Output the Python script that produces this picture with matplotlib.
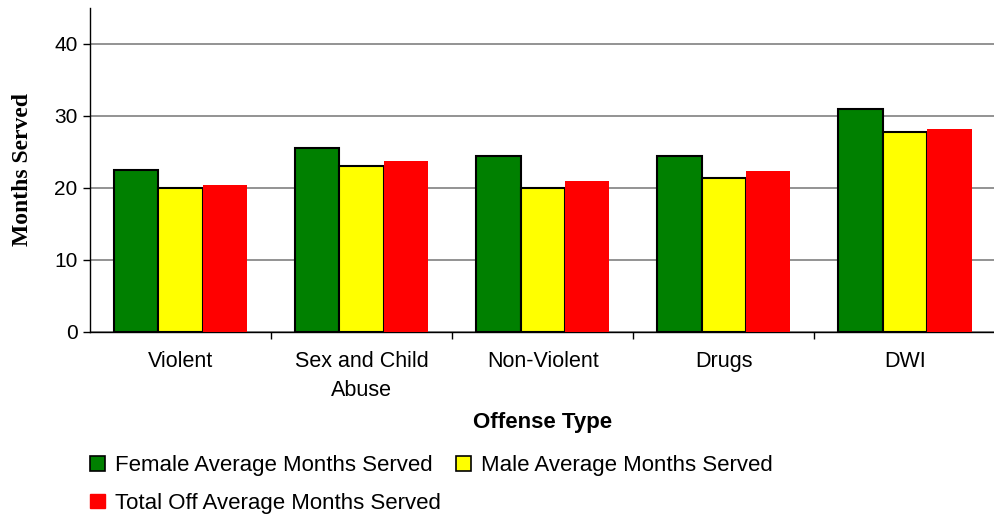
import numpy as np
import matplotlib.pyplot as plt
from matplotlib.patches import Patch

categories = ["Violent", "Sex and Child\nAbuse", "Non-Violent", "Drugs", "DWI"]
female = [22.5, 25.5, 24.4, 24.4, 31.0]
male = [20.0, 23.0, 20.0, 21.3, 27.7]
total = [20.4, 23.7, 21.0, 22.3, 28.2]

plt.rcParams["font.family"] = ["Liberation Sans", "DejaVu Sans"]

fig = plt.figure(figsize=(9.95, 5.17), dpi=100)
ax = fig.add_axes([0.0905, 0.358, 0.91, 0.627])

x = np.arange(len(categories))
w = 0.245
ax.bar(x - w, female, w, color="#008000", edgecolor="black", linewidth=1.5, zorder=3)
ax.bar(x, male, w, color="#ffff00", edgecolor="black", linewidth=1.5, zorder=3)
ax.bar(x + w, total, w, color="#ff0000", linewidth=0, zorder=3)

ax.set_xlim(-0.5, len(categories) - 0.5)
ax.set_ylim(0, 45)
ax.set_yticks([0, 10, 20, 30, 40])
ax.yaxis.grid(True, color="#808080", linewidth=1.2, zorder=0)

# category labels in the middle, tick marks on the group boundaries
ax.set_xticks(x)
ax.set_xticklabels(categories, fontsize=15.5, linespacing=1.45)
ax.tick_params(axis="x", which="major", length=0, pad=14)
ax.set_xticks(np.arange(len(categories)) + 0.5, minor=True)
ax.tick_params(axis="x", which="minor", length=5, width=1, color="black")
ax.tick_params(axis="y", length=5, width=1, labelsize=15, pad=4)

for side in ("top", "right"):
    ax.spines[side].set_visible(False)
ax.spines["left"].set_linewidth(1)
ax.spines["bottom"].set_linewidth(1)

ax.set_ylabel("Months Served", fontsize=17, fontweight="bold",
              family="Liberation Serif", labelpad=15)
ax.set_xlabel("Offense Type", fontsize=16, fontweight="bold", labelpad=8)

handles = [
    Patch(facecolor="#008000", edgecolor="black", linewidth=1.2,
          label="Female Average Months Served"),
    Patch(facecolor="#ff0000", edgecolor="#ff0000",
          label="Total Off Average Months Served"),
    Patch(facecolor="#ffff00", edgecolor="black", linewidth=1.2,
          label="Male Average Months Served"),
]
fig.legend(handles=handles, loc="upper left", bbox_to_anchor=(0.082, 0.137),
           ncol=2, frameon=False, fontsize=16, handlelength=0.65,
           handleheight=0.65, handletextpad=0.45, columnspacing=0.7,
           labelspacing=0.75, borderaxespad=0)

fig.savefig("out.png", dpi=100)
